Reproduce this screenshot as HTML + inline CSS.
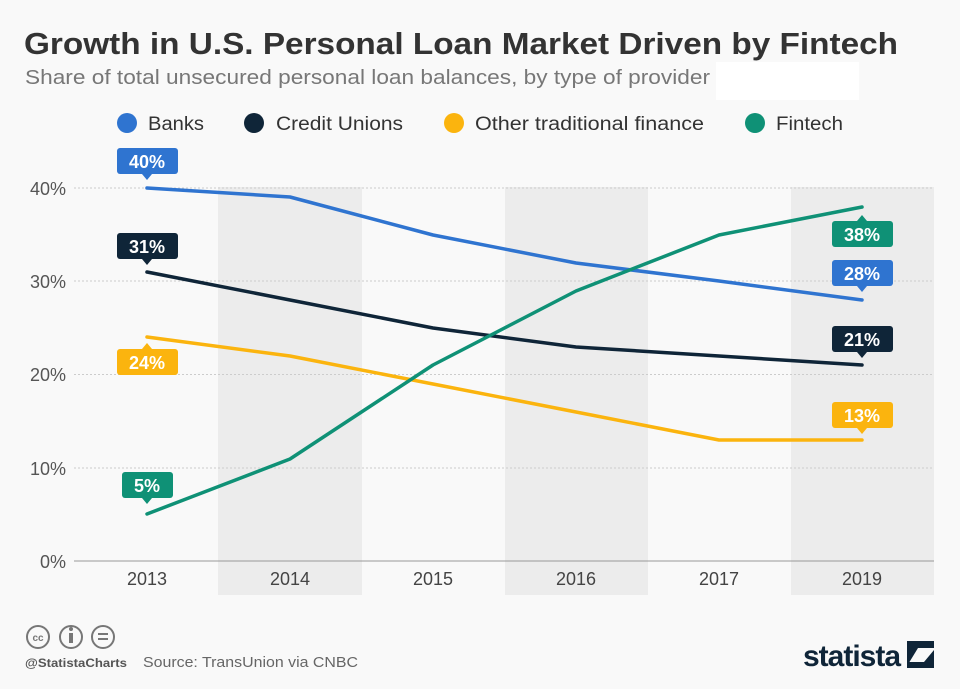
<!DOCTYPE html>
<html><head><meta charset="utf-8"><style>
body{margin:0;width:960px;height:684px;background:#f9f9f9;font-family:"Liberation Sans",sans-serif;overflow:hidden}
</style></head><body>
<svg width="960" height="684" xmlns="http://www.w3.org/2000/svg" font-family="Liberation Sans, sans-serif">
<rect width="960" height="684" fill="#f9f9f9"/>
<text x="24" y="54" font-size="31" font-weight="bold" fill="#333" textLength="874" lengthAdjust="spacingAndGlyphs">Growth in U.S. Personal Loan Market Driven by Fintech</text>
<text x="25" y="84" font-size="20" fill="#777" textLength="685" lengthAdjust="spacingAndGlyphs">Share of total unsecured personal loan balances, by type of provider</text>
<rect x="716" y="62" width="143" height="38" fill="#fff"/>
<g font-size="19" fill="#333">
<circle cx="127" cy="123" r="10" fill="#2f74d0"/><text x="148" y="130" textLength="56" lengthAdjust="spacingAndGlyphs">Banks</text>
<circle cx="254" cy="123" r="10" fill="#0f2538"/><text x="276" y="130" textLength="127" lengthAdjust="spacingAndGlyphs">Credit Unions</text>
<circle cx="454" cy="123" r="10" fill="#fbb40e"/><text x="475" y="130" textLength="229" lengthAdjust="spacingAndGlyphs">Other traditional finance</text>
<circle cx="755" cy="123" r="10" fill="#0f9176"/><text x="776" y="130" textLength="67" lengthAdjust="spacingAndGlyphs">Fintech</text>
</g>
<g fill="#ececec">
<rect x="218" y="187" width="144" height="408"/>
<rect x="505" y="187" width="143" height="408"/>
<rect x="791" y="187" width="143" height="408"/>
</g>
<g stroke="#ccc" stroke-dasharray="2,2" stroke-width="1">
<line x1="74" y1="188" x2="934" y2="188"/><line x1="74" y1="281" x2="934" y2="281"/>
<line x1="74" y1="374.5" x2="934" y2="374.5"/><line x1="74" y1="468" x2="934" y2="468"/>
</g>
<line x1="74" y1="561" x2="934" y2="561" stroke="#999" stroke-width="1"/>
<g font-size="18" fill="#555" text-anchor="end">
<text x="66" y="195">40%</text><text x="66" y="288">30%</text><text x="66" y="381">20%</text><text x="66" y="475">10%</text><text x="66" y="568">0%</text>
</g>
<g font-size="18" fill="#444" text-anchor="middle">
<text x="147" y="585">2013</text><text x="290" y="585">2014</text><text x="433" y="585">2015</text><text x="576" y="585">2016</text><text x="719" y="585">2017</text><text x="862" y="585">2019</text>
</g>
<g fill="none" stroke-width="3.5" stroke-linejoin="round" stroke-linecap="round">
<polyline stroke="#2f74d0" points="147,188 290,197 433,235 576,263 719,281 862,300"/>
<polyline stroke="#0f2538" points="147,272 290,300 433,328 576,347 719,356 862,365"/>
<polyline stroke="#fbb40e" points="147,337 290,356 433,384 576,412 719,440 862,440"/>
<polyline stroke="#0f9176" points="147,514 290,459 433,365 576,291 719,235 862,207"/>
</g>
<g font-size="18" font-weight="bold" fill="#fff" text-anchor="middle">
<rect x="117" y="148" width="61" height="26" rx="3" fill="#2f74d0"/><path d="M142 174 L147 180 L152 174Z" fill="#2f74d0"/><text x="147" y="168">40%</text>
<rect x="117" y="233" width="61" height="26" rx="3" fill="#0f2538"/><path d="M142 259 L147 265 L152 259Z" fill="#0f2538"/><text x="147" y="253">31%</text>
<rect x="117" y="349" width="61" height="26" rx="3" fill="#fbb40e"/><path d="M142 349 L147 343 L152 349Z" fill="#fbb40e"/><text x="147" y="369">24%</text>
<rect x="122" y="472" width="51" height="26" rx="3" fill="#0f9176"/><path d="M142 498 L147 504 L152 498Z" fill="#0f9176"/><text x="147" y="492">5%</text>
<rect x="832" y="221" width="61" height="26" rx="3" fill="#0f9176"/><path d="M857 221 L862 215 L867 221Z" fill="#0f9176"/><text x="862" y="241">38%</text>
<rect x="832" y="260" width="61" height="26" rx="3" fill="#2f74d0"/><path d="M857 286 L862 292 L867 286Z" fill="#2f74d0"/><text x="862" y="280">28%</text>
<rect x="832" y="326" width="61" height="26" rx="3" fill="#0f2538"/><path d="M857 352 L862 358 L867 352Z" fill="#0f2538"/><text x="862" y="346">21%</text>
<rect x="832" y="402" width="61" height="26" rx="3" fill="#fbb40e"/><path d="M857 428 L862 434 L867 428Z" fill="#fbb40e"/><text x="862" y="422">13%</text>
</g>
<g fill="none" stroke="#777" stroke-width="2">
<circle cx="38" cy="637" r="11"/><circle cx="71" cy="637" r="11"/><circle cx="103" cy="637" r="11"/>
</g>
<text x="38" y="641" font-size="10" font-weight="bold" fill="#777" text-anchor="middle">cc</text>
<rect x="69" y="633" width="4" height="10" fill="#777"/><circle cx="71" cy="629" r="2" fill="#777"/>
<rect x="98" y="633" width="10" height="2" fill="#777"/><rect x="98" y="638" width="10" height="2" fill="#777"/>
<text x="25" y="667" font-size="12" font-weight="bold" fill="#555" textLength="102" lengthAdjust="spacingAndGlyphs">@StatistaCharts</text>
<text x="143" y="667" font-size="15" fill="#666" textLength="215" lengthAdjust="spacingAndGlyphs">Source: TransUnion via CNBC</text>
<text x="803" y="666" font-size="30" font-weight="bold" fill="#0f2538" letter-spacing="-1">statista</text>
<path d="M907 641 H934 V648 H918 L907 666 Z M934 650 V668 H907 V662 H924 Z" fill="#0f2538"/>
</svg>
</body></html>
